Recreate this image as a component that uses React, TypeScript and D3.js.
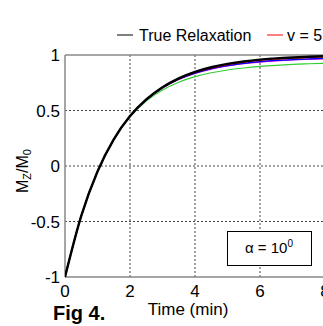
import React from "react";
import * as d3 from "d3";

// ── Data ──────────────────────────────────────────────────────
const TIME = [0, 0.5, 1, 1.5, 2, 2.5, 3, 3.5, 4, 4.5, 5, 5.5, 6, 6.5, 7, 7.5, 8, 8.5];
const TRUE_RELAX = [-1, -0.45, -0.05, 0.24, 0.45, 0.6, 0.71, 0.79, 0.848, 0.89, 0.92, 0.942, 0.958, 0.97, 0.978, 0.984, 0.989, 0.992];
const RED = [-1, -0.45, -0.05, 0.24, 0.45, 0.6, 0.708, 0.787, 0.843, 0.884, 0.914, 0.936, 0.952, 0.963, 0.972, 0.978, 0.983, 0.986];
const BLUE = [-1, -0.45, -0.05, 0.24, 0.448, 0.597, 0.705, 0.782, 0.837, 0.877, 0.905, 0.925, 0.94, 0.951, 0.959, 0.965, 0.97, 0.973];
const PURPLE = [-1, -0.45, -0.05, 0.24, 0.447, 0.595, 0.702, 0.779, 0.834, 0.873, 0.901, 0.921, 0.936, 0.947, 0.955, 0.961, 0.966, 0.969];
const GREEN = [-1, -0.45, -0.05, 0.238, 0.44, 0.585, 0.685, 0.755, 0.805, 0.84, 0.865, 0.883, 0.897, 0.907, 0.915, 0.921, 0.926, 0.93];

const X_TICKS = [0, 2, 4, 6, 8];
const Y_TICKS = [-1, -0.5, 0, 0.5, 1];
const Y_TICK_LABELS = ["-1", "-0.5", "0", "0.5", "1"];

// ── Geometry ──────────────────────────────────────────────────
const W = 323;
const H = 326;
const PLOT = { left: 65, right: 325, top: 55, bottom: 277 };
const FONT = "'Liberation Sans', Arial, sans-serif";

const x = d3.scaleLinear().domain([0, 8]).range([PLOT.left, PLOT.right]);
const y = d3.scaleLinear().domain([-1, 1]).range([PLOT.bottom, PLOT.top]);

const line = d3
  .line<number>()
  .x((_d, i) => x(TIME[i]))
  .y((d) => y(d))
  .curve(d3.curveMonotoneX);

// black drawn last so it sits on top, like the reference
const SERIES = [
  { values: GREEN, color: "#33cc33", width: 1.2 },
  { values: PURPLE, color: "#cc00cc", width: 1.2 },
  { values: BLUE, color: "#0000ff", width: 1.2 },
  { values: RED, color: "#ff0000", width: 1.2 },
  { values: TRUE_RELAX, color: "#000000", width: 2.4 },
];

export default function App() {
  return (
    <svg
      width={W}
      height={H}
      style={{ position: "absolute", left: 0, top: 0, background: "#fff" }}
      fontFamily={FONT}
    >
      <defs>
        <clipPath id="plot">
          <rect x={PLOT.left} y={PLOT.top - 2} width={PLOT.right - PLOT.left} height={PLOT.bottom - PLOT.top + 4} />
        </clipPath>
      </defs>

      {/* Grid */}
      {X_TICKS.slice(1).map((t) => (
        <line key={`gx${t}`} x1={x(t)} x2={x(t)} y1={PLOT.top} y2={PLOT.bottom}
          stroke="#444" strokeWidth={1} strokeDasharray="2,2" />
      ))}
      {Y_TICKS.slice(1, -1).map((t) => (
        <line key={`gy${t}`} x1={PLOT.left} x2={PLOT.right} y1={y(t)} y2={y(t)}
          stroke="#444" strokeWidth={1} strokeDasharray="2,2" />
      ))}

      {/* Frame */}
      <line x1={PLOT.left} x2={PLOT.right} y1={PLOT.top} y2={PLOT.top} stroke="#888" strokeWidth={1.5} />
      <line x1={PLOT.left} x2={PLOT.right} y1={PLOT.bottom} y2={PLOT.bottom} stroke="#888" strokeWidth={1.5} />
      <line x1={PLOT.left} x2={PLOT.left} y1={PLOT.top} y2={PLOT.bottom} stroke="#888" strokeWidth={1.5} />

      {/* Curves */}
      <g clipPath="url(#plot)">
        {SERIES.map((s, i) => (
          <path key={i} d={line(s.values) ?? ""} fill="none" stroke={s.color} strokeWidth={s.width} />
        ))}
      </g>

      {/* Tick labels */}
      {Y_TICKS.map((t, i) => (
        <text key={`ty${t}`} x={PLOT.left - 5} y={y(t) + 6} fontSize={17} textAnchor="end" fill="#000">
          {Y_TICK_LABELS[i]}
        </text>
      ))}
      {X_TICKS.map((t) => (
        <text key={`tx${t}`} x={x(t)} y={297} fontSize={17} textAnchor="middle" fill="#000">
          {t}
        </text>
      ))}

      {/* Axis labels */}
      <text x={188} y={315} fontSize={17} textAnchor="middle" fill="#000">Time (min)</text>
      <text transform="translate(28,171) rotate(-90)" fontSize={16} textAnchor="middle" fill="#000">
        M<tspan fontSize={11} dy={3}>Z</tspan>
        <tspan dy={-3}>/M</tspan>
        <tspan fontSize={11} dy={3}>0</tspan>
      </text>
      <text x={53} y={320} fontSize={20} fontWeight="bold" fill="#000">Fig 4.</text>

      {/* Legend */}
      <line x1={117} x2={133} y1={35} y2={35} stroke="#000" strokeWidth={1} />
      <text x={139} y={41} fontSize={16} fill="#000">True Relaxation</text>
      <line x1={267} x2={283} y1={35} y2={35} stroke="#ff0000" strokeWidth={1} />
      <text x={287} y={41} fontSize={16} fill="#000">v = 5</text>

      {/* Annotation box */}
      <rect x={227.5} y={231.5} width={84} height={34} fill="#fff" stroke="#000" strokeWidth={1} />
      <text x={269} y={253} fontSize={15} textAnchor="middle" fill="#000">
        α = 10<tspan fontSize={10} dy={-6}>0</tspan>
      </text>
    </svg>
  );
}
